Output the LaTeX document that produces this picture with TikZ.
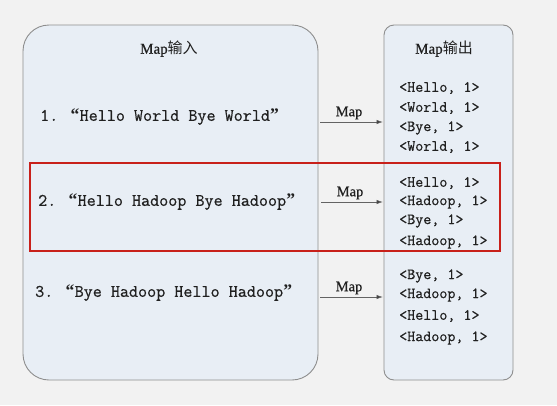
\documentclass[tikz,border=0pt]{standalone}
\usepackage{fontspec}
\setmainfont{Liberation Serif}
\newfontfamily\smono[AutoFakeBold=0.6]{Latin Modern Mono}
\newfontfamily\hfont[FakeBold=0.6]{Liberation Serif}
\newfontfamily\cjk{Noto Sans CJK SC}
\usetikzlibrary{arrows.meta}
\definecolor{bgc}{HTML}{F2F2F2}
\definecolor{boxfill}{HTML}{E8EEF5}
\definecolor{boxline}{HTML}{8E8E8E}
\definecolor{redline}{HTML}{C8201A}
\definecolor{txt}{HTML}{202020}
\newcommand\myoq{\makebox[0.525em]{\rmfamily “}}
\newcommand\mycq{\makebox[0.525em]{\rmfamily ”}}
\tikzset{
  panel/.style={draw=boxline, line width=0.9pt, fill=boxfill, inner sep=0pt},
  head/.style={font=\hfont\fontsize{15}{15}\selectfont, text=txt, inner sep=0pt},
  sent/.style={font=\smono\bfseries\fontsize{17.6}{18}\selectfont, text=txt, inner sep=0pt, anchor=west},
  pair/.style={font=\smono\bfseries\fontsize{15.6}{16}\selectfont, text=txt, inner sep=0pt, anchor=west},
  maparrow/.style={draw=boxline!70!black, line width=0.8pt, -{Latex[length=6.5pt,width=4.5pt,fill=black!85]}},
  maplabel/.style={font=\hfont\fontsize{14.5}{15}\selectfont, text=txt, inner sep=0pt},
  hilite/.style={draw=redline, line width=2.2pt}
}
\begin{document}
\begin{tikzpicture}[x=1pt,y=-1pt]
\fill[bgc] (0,0) rectangle (557,405);
\useasboundingbox (0,0) rectangle (557,405);
% panels
\node[panel, rounded corners=26pt, minimum width=295pt, minimum height=355pt] (inbox) at (170.5,202.5) {};
\node[panel, rounded corners=10pt, minimum width=129pt, minimum height=355pt] (outbox) at (448.5,202.5) {};
% headers
\node[head] (hin) at (169,49) {Map{\cjk 输入}};
\node[head] (hout) at (444,49) {Map{\cjk 输出}};
% sentences
\node[sent] (s1) at (40,117) {1. \myoq Hello World Bye World\mycq};
\node[sent] (s2) at (38,202) {2. \myoq Hello Hadoop Bye Hadoop\mycq};
\node[sent] (s3) at (35,293) {3. \myoq Bye Hadoop Hello Hadoop\mycq};
% pairs
\node[pair] (p11) at (399,88) {<Hello, 1>};
\node[pair] (p12) at (399,108) {<World, 1>};
\node[pair] (p13) at (399,128) {<Bye, 1>};
\node[pair] (p14) at (399,147) {<World, 1>};
\node[pair] (p21) at (399,183) {<Hello, 1>};
\node[pair] (p22) at (399,202) {<Hadoop, 1>};
\node[pair] (p23) at (399,221) {<Bye, 1>};
\node[pair] (p24) at (399,242) {<Hadoop, 1>};
\node[pair] (p31) at (399,276) {<Bye, 1>};
\node[pair] (p32) at (399,295) {<Hadoop, 1>};
\node[pair] (p33) at (399,316) {<Hello, 1>};
\node[pair] (p34) at (399,338) {<Hadoop, 1>};
% arrows
\coordinate (a1s) at (320,122); \coordinate (a1e) at (383,122);
\coordinate (a2s) at (321,202); \coordinate (a2e) at (383,202);
\coordinate (a3s) at (320,297); \coordinate (a3e) at (383,297);
\draw[maparrow] (a1s) -- (a1e);
\draw[maparrow] (a2s) -- (a2e);
\draw[maparrow] (a3s) -- (a3e);
\node[maplabel] (m1) at (349,113) {Map};
\node[maplabel] (m2) at (350,193) {Map};
\node[maplabel] (m3) at (349,288) {Map};
% highlight
\node[hilite, minimum width=470pt, minimum height=88pt, inner sep=0pt] (hl) at (265,207) {};
\end{tikzpicture}
\end{document}
